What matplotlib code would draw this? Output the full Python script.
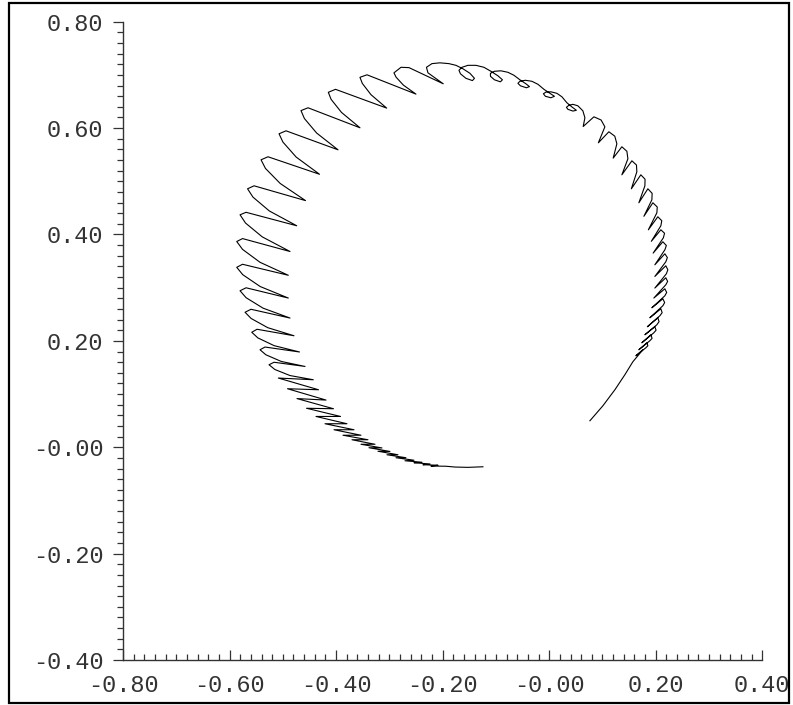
import numpy as np
import matplotlib
matplotlib.use("Agg")
import matplotlib.pyplot as plt
from matplotlib.patches import Rectangle
from matplotlib.ticker import MultipleLocator, FixedLocator


# Trajectory, in data units, in path order:
# bottom tail -> left side (going up) -> top loops -> right side (going down)
tail_x = [-0.1244, -0.1525, -0.1769, -0.1938, -0.2220, -0.2088, -0.2370, -0.2238,
          -0.2538, -0.2388, -0.2707, -0.2538, -0.2876, -0.2689, -0.3045, -0.2839,
          -0.3214, -0.2989, -0.3383, -0.3139, -0.3533, -0.3270, -0.3702, -0.3402,
          -0.3871, -0.3533, -0.4039, -0.3664, -0.4208, -0.3796, -0.4377, -0.3917,
          -0.4555, -0.4049, -0.4734, -0.4189, -0.4912, -0.4330, -0.5084, -0.4428]
tail_y = [-0.0367, -0.0378, -0.0372, -0.0357, -0.0353, -0.0338, -0.0329, -0.0314,
          -0.0291, -0.0282, -0.0254, -0.0244, -0.0197, -0.0197, -0.0141, -0.0141,
          -0.0075, -0.0079, -0.0009, -0.0013, 0.0056, 0.0056, 0.0141, 0.0141,
          0.0226, 0.0226, 0.0329, 0.0329, 0.0442, 0.0442, 0.0579, 0.0579,
          0.0733, 0.0724, 0.0915, 0.0887, 0.1100, 0.1081, 0.1301, 0.1269]

left_x = [-0.4865, -0.5150, -0.5259, -0.5165, -0.4583,
          -0.5029, -0.5319, -0.5428, -0.5334, -0.4687,
          -0.5163, -0.5469, -0.5583, -0.5484, -0.4790,
          -0.5283, -0.5595, -0.5709, -0.5597, -0.4865,
          -0.5371, -0.5690, -0.5803, -0.5690, -0.4897,
          -0.5424, -0.5752, -0.5865, -0.5756, -0.4897,
          -0.5428, -0.5756, -0.5865, -0.5756, -0.4865,
          -0.5386, -0.5700, -0.5803, -0.5690, -0.4739,
          -0.5253, -0.5561, -0.5662, -0.5540, -0.4574,
          -0.5049, -0.5326, -0.5409, -0.5278, -0.4311,
          -0.4749, -0.4998, -0.5071, -0.4940, -0.3964,
          -0.4366, -0.4595, -0.4659, -0.4527, -0.3552,
          -0.3899, -0.4094, -0.4146, -0.4011, -0.3051,
          -0.3345, -0.3508, -0.3552, -0.3420, -0.2501,
          -0.2737, -0.2874, -0.2914, -0.2782, -0.2632, -0.1989]
left_y = [0.1348, 0.1462, 0.1551, 0.1598, 0.1519,
          0.1613, 0.1739, 0.1833, 0.1884, 0.1791,
          0.1910, 0.2056, 0.2162, 0.2218, 0.2096,
          0.2248, 0.2421, 0.2538, 0.2594, 0.2429,
          0.2615, 0.2812, 0.2942, 0.2998, 0.2805,
          0.3021, 0.3244, 0.3383, 0.3440, 0.3233,
          0.3477, 0.3720, 0.3868, 0.3923, 0.3680,
          0.3955, 0.4215, 0.4370, 0.4417, 0.4164,
          0.4442, 0.4703, 0.4859, 0.4915, 0.4637,
          0.4959, 0.5242, 0.5404, 0.5461, 0.5132,
          0.5455, 0.5737, 0.5893, 0.5949, 0.5592,
          0.5908, 0.6180, 0.6329, 0.6382, 0.6006,
          0.6295, 0.6541, 0.6673, 0.6729, 0.6376,
          0.6628, 0.6840, 0.6955, 0.7002, 0.6639,
          0.6808, 0.6957, 0.7039, 0.7143, 0.7137, 0.6833]

top_x = [-0.2276, -0.2304, -0.2201, -0.2051, -0.1882, -0.1750,
         -0.1619, -0.1488, -0.1403, -0.1441, -0.1563, -0.1666, -0.1694, -0.1638,
         -0.1525, -0.1375, -0.1225,
         -0.1094, -0.0962, -0.0878, -0.0916, -0.1028, -0.1103, -0.1103, -0.1028,
         -0.0906, -0.0775, -0.0662,
         -0.0550, -0.0437, -0.0371, -0.0428, -0.0540, -0.0587, -0.0550, -0.0447,
         -0.0325, -0.0212,
         -0.0099, 0.0013, 0.0098, 0.0032, -0.0071, -0.0109, -0.0062, 0.0032,
         0.0144, 0.0238,
         0.0332, 0.0435, 0.0510, 0.0445, 0.0351, 0.0323, 0.0370, 0.0445,
         0.0538, 0.0632, 0.0670, 0.0638]
top_y = [0.7039, 0.7143, 0.7212, 0.7227, 0.7212, 0.7180,
         0.7115, 0.7030, 0.6936, 0.6893, 0.6936, 0.7021, 0.7087, 0.7143,
         0.7180, 0.7180, 0.7143,
         0.7068, 0.6983, 0.6908, 0.6870, 0.6908, 0.6974, 0.7030, 0.7068,
         0.7077, 0.7049, 0.6993,
         0.6908, 0.6833, 0.6780, 0.6758, 0.6795, 0.6842, 0.6880, 0.6899,
         0.6880, 0.6824,
         0.6729, 0.6654, 0.6598, 0.6570, 0.6598, 0.6645, 0.6677, 0.6682,
         0.6654, 0.6589,
         0.6476, 0.6391, 0.6335, 0.6320, 0.6353, 0.6391, 0.6429, 0.6447,
         0.6419, 0.6325, 0.6194, 0.6030]

right_x = [0.0839, 0.0974, 0.1045, 0.0923,
           0.1120, 0.1231, 0.1270, 0.1201,
           0.1364, 0.1458, 0.1477, 0.1364,
           0.1552, 0.1638, 0.1645, 0.1542,
           0.1720, 0.1799, 0.1796, 0.1683,
           0.1852, 0.1932, 0.1927, 0.1777,
           0.1946, 0.2028, 0.2021, 0.1861,
           0.2039, 0.2113, 0.2096, 0.1917,
           0.2096, 0.2165, 0.2143, 0.1951,
           0.2133, 0.2199, 0.2171, 0.1983,
           0.2171, 0.2218, 0.2189, 0.1983,
           0.2189, 0.2227, 0.2199, 0.1983,
           0.2189, 0.2223, 0.2189, 0.1964,
           0.2171, 0.2205, 0.2171, 0.1927,
           0.2133, 0.2167, 0.2133, 0.1889,
           0.2096, 0.2120, 0.2077, 0.1842,
           0.2039, 0.2062, 0.2021, 0.1796,
           0.1983, 0.2006, 0.1964, 0.1739,
           0.1908, 0.1931, 0.1889, 0.1683,
           0.1833, 0.1852, 0.1814, 0.1627,
           0.1758, 0.1570, 0.1420, 0.1233, 0.1008, 0.0764]
right_y = [0.6212, 0.6152, 0.6024, 0.5724,
           0.5931, 0.5848, 0.5705, 0.5436,
           0.5649, 0.5564, 0.5423, 0.5122,
           0.5385, 0.5306, 0.5179, 0.4859,
           0.5122, 0.5039, 0.4915, 0.4596,
           0.4859, 0.4773, 0.4652, 0.4342,
           0.4596, 0.4517, 0.4408, 0.4088,
           0.4333, 0.4259, 0.4164, 0.3872,
           0.4088, 0.4023, 0.3938, 0.3650,
           0.3863, 0.3793, 0.3712, 0.3430,
           0.3637, 0.3566, 0.3487, 0.3211,
           0.3412, 0.3336, 0.3261, 0.2993,
           0.3186, 0.3118, 0.3055, 0.2805,
           0.2979, 0.2910, 0.2848, 0.2622,
           0.2791, 0.2720, 0.2660, 0.2434,
           0.2603, 0.2530, 0.2472, 0.2265,
           0.2434, 0.2361, 0.2303, 0.2115,
           0.2265, 0.2201, 0.2152, 0.1964,
           0.2115, 0.2047, 0.2002, 0.1833,
           0.1964, 0.1908, 0.1870, 0.1720,
           0.1833, 0.1607, 0.1363, 0.1081, 0.0780, 0.0498]

x_ticks = [-0.80, -0.60, -0.40, -0.20, 0.00, 0.20, 0.40]
x_labels = ["-0.80", "-0.60", "-0.40", "-0.20", "-0.00", "0.20", "0.40"]
y_ticks = [-0.40, -0.20, 0.00, 0.20, 0.40, 0.60, 0.80]
y_labels = ["-0.40", "-0.20", "-0.00", "0.20", "0.40", "0.60", "0.80"]

xs = np.array(tail_x + left_x + top_x + right_x)
ys = np.array(tail_y + left_y + top_y + right_y)

fig = plt.figure(figsize=(7.93, 7.05), dpi=100)
ax = fig.add_axes([0.1551, 0.0638, 0.8062, 0.9054])

ax.plot(xs, ys, color="black", linewidth=0.8, solid_joinstyle="round")

ax.set_xlim(-0.80, 0.40)
ax.set_ylim(-0.40, 0.80)

for side in ["top", "right"]:
    ax.spines[side].set_visible(False)
for side in ["left", "bottom"]:
    ax.spines[side].set_linewidth(1.0)
    ax.spines[side].set_color("#333333")

ax.xaxis.set_major_locator(FixedLocator(x_ticks))
ax.yaxis.set_major_locator(FixedLocator(y_ticks))
ax.xaxis.set_minor_locator(MultipleLocator(0.02))
ax.yaxis.set_minor_locator(MultipleLocator(0.02))
ax.set_xticklabels(x_labels)
ax.set_yticklabels(y_labels)

ax.tick_params(axis="x", which="major", direction="in", length=7.2, width=0.9,
               color="#333333", pad=10)
ax.tick_params(axis="x", which="minor", direction="in", length=4.6, width=0.9,
               color="#333333")
ax.tick_params(axis="y", which="major", direction="out", length=7.2, width=0.9,
               color="#333333", pad=7)
ax.tick_params(axis="y", which="minor", direction="out", length=4.6, width=0.9,
               color="#333333")

for lab in ax.get_xticklabels() + ax.get_yticklabels():
    lab.set_fontfamily("Liberation Mono")
    lab.set_fontsize(17)
    lab.set_color("#333333")

# frame around the whole picture
fig.patches.append(Rectangle((0.0113, 0.0028), 0.9836, 0.9930,
                             transform=fig.transFigure, fill=False,
                             edgecolor="black", linewidth=1.6))

fig.savefig("out.png", dpi=100)
